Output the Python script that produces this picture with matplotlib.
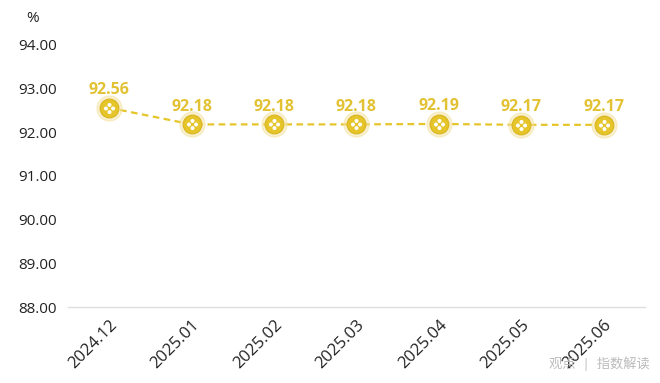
import matplotlib.pyplot as plt
import numpy as np
from matplotlib.path import Path

plt.rcParams['font.family'] = ['Open Sans', 'Noto Sans CJK SC', 'DejaVu Sans']

months = ['2024.12', '2025.01', '2025.02', '2025.03', '2025.04', '2025.05', '2025.06']
rate = [92.56, 92.18, 92.18, 92.18, 92.19, 92.17, 92.17]
yticks = [88, 89, 90, 91, 92, 93, 94]

gold = '#E6C52A'
label_col = '#E2C233'

fig = plt.figure(figsize=(6.6, 3.83), dpi=100)
ax = fig.add_axes([0.103, 0.198, 0.874, 0.685])

x = np.arange(len(months))
ax.plot(x, rate, color=gold, lw=1.6, ls=(0, (3, 2)), zorder=2)
# soft halo + marker
ax.plot(x, rate, 'o', ms=18, color='#F3E3A0', alpha=0.5, zorder=3)
ax.plot(x, rate, 'o', ms=13.5, color=gold, mec='#D9B41E', mew=0.8, zorder=4)

# little white dot pattern inside each marker
circ = Path.circle((0, 0), 0.28)
verts, codes = [], []
for dx, dy in [(0.5, 0), (-0.5, 0), (0, 0.5), (0, -0.5)]:
    verts.extend(circ.vertices + [dx, dy])
    codes.extend(circ.codes)
dots = Path(verts, codes)
ax.plot(x, rate, ls='none', marker=dots, ms=8, color='white', mew=0, zorder=5)

for xi, v in zip(x, rate):
    ax.annotate(f'{v:.2f}', (xi, v), xytext=(0, 7), textcoords='offset points',
                ha='center', va='bottom', fontsize=11.5, fontweight='bold', color=label_col)

ax.set_xlim(-0.5, len(months) - 0.5)
ax.set_ylim(88, 94)
ax.set_yticks(yticks)
ax.set_yticklabels([f'{t:.2f}' for t in yticks], fontsize=11, color='#222222')
ax.set_xticks(x)
ax.set_xticklabels(months, rotation=45, ha='right', va='top', rotation_mode='anchor',
                   fontsize=12, color='#222222')
ax.tick_params(length=0, pad=8)
ax.tick_params(axis='x', pad=7)
for s in ['top', 'right', 'left']:
    ax.spines[s].set_visible(False)
ax.spines['bottom'].set_color('#DDDDDD')
ax.spines['bottom'].set_linewidth(1)

fig.text(0.05, 0.953, '%', fontsize=11, color='#222222', ha='center', va='center')
fig.text(0.985, 0.05, '观点  |  指数解读', fontsize=9.5, color='#BBBBBB', ha='right', va='center')

fig.savefig('out.png', dpi=100)
